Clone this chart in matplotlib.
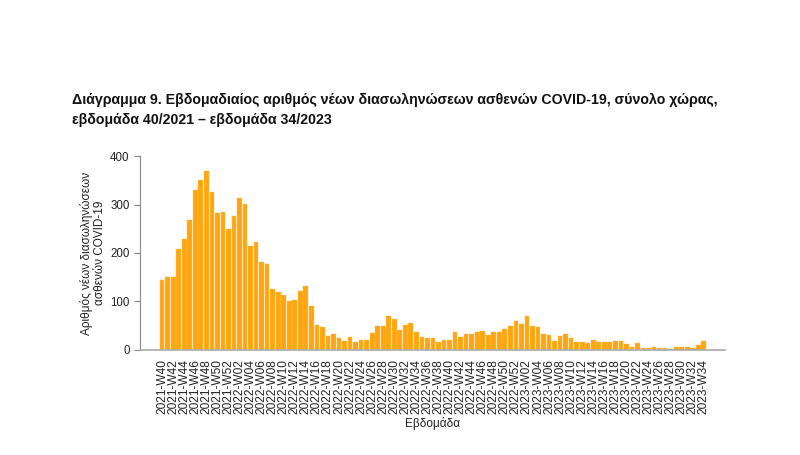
import matplotlib.pyplot as plt
import numpy as np

plt.rcParams['font.family'] = ['Liberation Sans', 'DejaVu Sans']

# weeks 2021-W40 .. 2023-W34
weeks = ([f"2021-W{w:02d}" for w in range(40, 53)]
         + [f"2022-W{w:02d}" for w in range(1, 53)]
         + [f"2023-W{w:02d}" for w in range(1, 35)])

# weekly new intubations
vals_2021 = [145, 151, 151, 209, 228, 268, 329, 350, 369, 326, 283, 285, 249]
vals_2022 = [277, 314, 302, 214, 223, 181, 178, 125, 119, 113, 101, 103, 122,
             132, 90, 51, 47, 28, 32, 25, 19, 26, 16, 20, 20, 34, 49, 49,
             70, 63, 42, 51, 56, 37, 26, 25, 25, 16, 20, 20, 37, 26, 33,
             33, 36, 38, 31, 37, 37, 43, 50, 59]
vals_2023 = [53, 69, 49, 47, 33, 30, 19, 28, 32, 25, 17, 16, 14, 21, 16, 16,
             16, 19, 18, 12, 7, 15, 3, 4, 5, 3, 3, 1, 5, 7, 7, 4, 11, 18]
values = vals_2021 + vals_2022 + vals_2023

title = ("Διάγραμμα 9. Εβδομαδιαίος αριθμός νέων διασωληνώσεων ασθενών COVID-19, σύνολο χώρας,\n"
         "εβδομάδα 40/2021 – εβδομάδα 34/2023")
ylabel = "Αριθμός νέων διασωληνώσεων\nασθενών COVID-19"
xlabel = "Εβδομάδα"

fig = plt.figure(figsize=(8, 4.55), dpi=100)
ax = fig.add_axes([0.175, 0.231, 0.731, 0.426])

x = np.arange(len(values))
ax.bar(x, values, width=0.85, color='#FFA510', edgecolor='#FFC45A', linewidth=0.3)

ax.set_ylim(0, 400)
ax.set_yticks([0, 100, 200, 300, 400])
ax.set_xlim(-4, 101.8)
ax.set_xticks(x[::2])
ax.set_xticklabels(weeks[::2], rotation=90, fontsize=8.6, color='#222222')
ax.tick_params(axis='x', length=0, pad=7)
ax.tick_params(axis='y', labelsize=8.3, length=4, color='#888888', labelcolor='#222222')

for s in ['top', 'right']:
    ax.spines[s].set_visible(False)
ax.spines['left'].set_color('#888888')
ax.spines['bottom'].set_color('#aaaaaa')
ax.spines['bottom'].set_linewidth(1.2)

ax.set_ylabel(ylabel, fontsize=8.5, color='#222222', labelpad=3, linespacing=1.1)
ax.set_xlabel(xlabel, fontsize=8.5, color='#222222', labelpad=2)

fig.text(0.09, 0.758, title, fontsize=10.2, fontweight='bold', ha='left', va='center',
         linespacing=1.5, color='#111111')

fig.savefig('out.png', dpi=100, facecolor='white')
